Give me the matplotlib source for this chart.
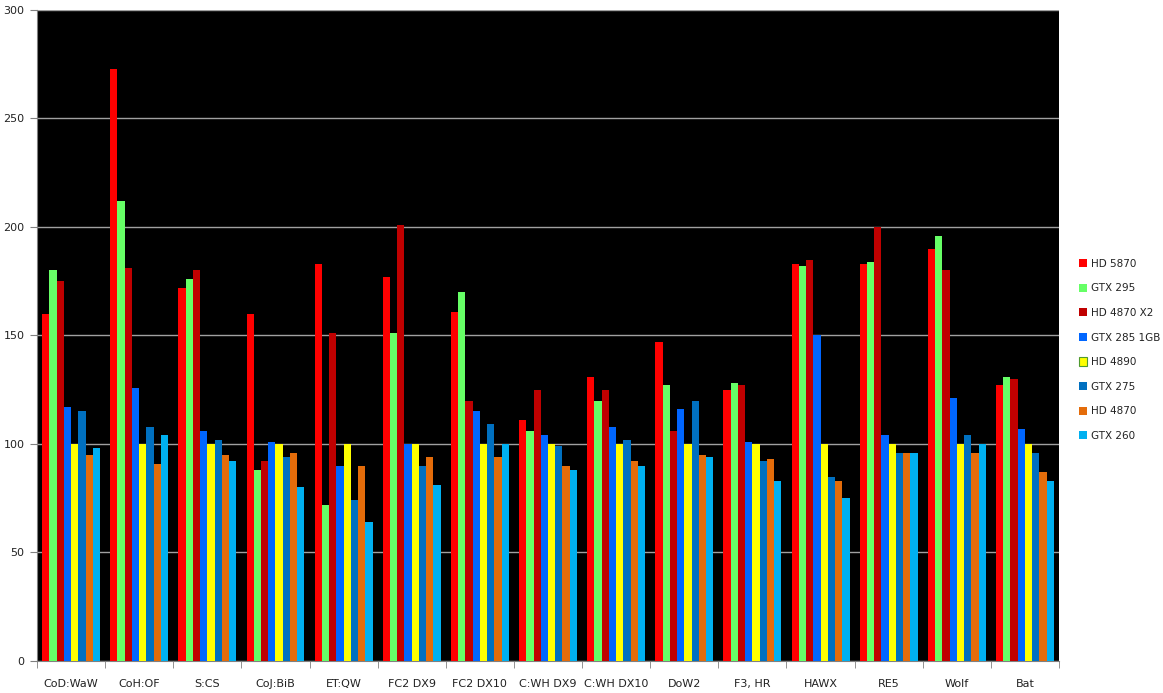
import numpy as np
import matplotlib
matplotlib.use("Agg")
import matplotlib.pyplot as plt

categories = ["CoD:WaW", "CoH:OF", "S:CS", "CoJ:BiB", "ET:QW", "FC2 DX9", "FC2 DX10",
              "C:WH DX9", "C:WH DX10", "DoW2", "F3, HR", "HAWX", "RE5", "Wolf", "Bat"]

hd5870   = [160, 273, 172, 160, 183, 177, 161, 111, 131, 147, 125, 183, 183, 190, 127]
gtx295   = [180, 212, 176,  88,  72, 151, 170, 106, 120, 127, 128, 182, 184, 196, 131]
hd4870x2 = [175, 181, 180,  92, 151, 201, 120, 125, 125, 106, 127, 185, 200, 180, 130]
gtx285   = [117, 126, 106, 101,  90, 100, 115, 104, 108, 116, 101, 150, 104, 121, 107]
hd4890   = [100, 100, 100, 100, 100, 100, 100, 100, 100, 100, 100, 100, 100, 100, 100]
gtx275   = [115, 108, 102,  94,  74,  90, 109,  99, 102, 120,  92,  85,  96, 104,  96]
hd4870   = [ 95,  91,  95,  96,  90,  94,  94,  90,  92,  95,  93,  83,  96,  96,  87]
gtx260   = [ 98, 104,  92,  80,  64,  81, 100,  88,  90,  94,  83,  75,  96, 100,  83]

series_names = ["HD 5870", "GTX 295", "HD 4870 X2", "GTX 285 1GB", "HD 4890", "GTX 275", "HD 4870", "GTX 260"]
series = [hd5870, gtx295, hd4870x2, gtx285, hd4890, gtx275, hd4870, gtx260]
colors = ["#FF0000", "#66FF66", "#C00000", "#0066FF", "#FFFF00", "#0070C0", "#E46C0A", "#00B0F0"]

fig = plt.figure(figsize=(11.63, 6.93), dpi=100)
ax = fig.add_axes([0.0318, 0.0462, 0.8788, 0.9394])
ax.set_facecolor("black")

n = len(series)
x = np.arange(len(categories))
group = 0.85
bw = group / n
for i, (name, vals, c) in enumerate(zip(series_names, series, colors)):
    offs = -group / 2 + bw * (i + 0.5)
    ax.bar(x + offs, vals, width=bw, color=c, label=name, linewidth=0, zorder=3)

ax.set_xlim(-0.5, len(categories) - 0.5)
ax.set_ylim(0, 300)
ax.set_yticks(np.arange(0, 301, 50))
ax.yaxis.grid(True, color="#A0A0A0", linewidth=1, zorder=1)
ax.set_axisbelow(True)

ax.set_xticks(x)
ax.set_xticklabels(categories, fontsize=8, color="#222222")
ax.set_xticks(np.arange(-0.5, len(categories), 1), minor=True)
ax.tick_params(axis="x", which="major", length=0, pad=13)
ax.tick_params(axis="x", which="minor", length=5, color="#808080", direction="out")
ax.tick_params(axis="y", length=5, color="#808080", labelsize=8, labelcolor="#222222", pad=4)

for s in ["top", "right"]:
    ax.spines[s].set_visible(False)
ax.spines["left"].set_color("#808080")
ax.spines["bottom"].set_color("#808080")

leg = ax.legend(loc="center left", bbox_to_anchor=(1.015, 0.478), frameon=False, fontsize=7.5,
                handlelength=0.85, handleheight=0.85, handletextpad=0.3, labelspacing=1.4,
                borderaxespad=0)
for t in leg.get_texts():
    t.set_color("#222222")
hs = leg.legend_handles
hs[4].set_edgecolor("#4F9A30")
hs[4].set_linewidth(0.8)

fig.savefig("out.png", dpi=100, facecolor="white")
